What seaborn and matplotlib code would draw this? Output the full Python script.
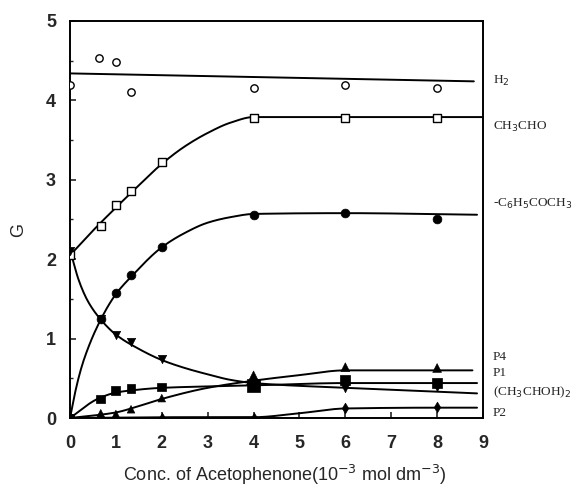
import numpy as np
import pandas as pd
import matplotlib
matplotlib.use("Agg")
import matplotlib.pyplot as plt
import seaborn as sns

# ---- data ----
conc = [0, 0.67, 1.0, 1.33, 2, 4, 6, 8]
h2_x = [0, 0.63, 1.0, 1.33, 4, 6, 8]
h2_g = [4.2, 4.53, 4.48, 4.1, 4.16, 4.2, 4.15]
ch3cho_g = [2.05, 2.42, 2.68, 2.86, 3.22, 3.78, 3.78, 3.78]
acet_g = [0, 1.25, 1.58, 1.8, 2.15, 2.56, 2.58, 2.5]
pinacol_g = [2.1, 1.25, 1.04, 0.96, 0.74, 0.44, 0.38, 0.39]
p1_g = [0, 0.24, 0.35, 0.37, 0.39, 0.41, 0.48, 0.44]
p4_g = [0, 0.06, 0.05, 0.11, 0.25, 0.5, 0.64, 0.63]
p2_x = [0, 2, 4, 6, 8]
p2_g = [0, 0.0, 0.0, 0.13, 0.14]

# hand-drawn fitted curves (knots)
h2_fx = [0, 8.8]
h2_fy = [4.34, 4.24]
ch3cho_fx = [0, 0.5, 1, 1.5, 2, 2.5, 3, 3.5, 4, 9]
ch3cho_fy = [2.05, 2.36, 2.65, 2.93, 3.2, 3.42, 3.59, 3.72, 3.79, 3.79]
acet_fx = [0, 0.15, 0.3, 0.67, 1, 1.35, 2, 2.5, 3, 3.5, 4, 6, 8.87]
acet_fy = [0, 0.42, 0.73, 1.24, 1.56, 1.79, 2.15, 2.33, 2.46, 2.53, 2.57, 2.58, 2.56]
pin_fx = [0, 0.2, 0.4, 0.67, 1, 1.5, 2, 2.5, 3, 3.5, 4, 6, 8.87]
pin_fy = [2.12, 1.72, 1.46, 1.24, 1.05, 0.87, 0.73, 0.63, 0.55, 0.48, 0.44, 0.38, 0.31]
p1_fx = [0, 0.6, 1, 1.37, 2, 4, 6, 8.87]
p1_fy = [0, 0.24, 0.32, 0.35, 0.38, 0.41, 0.44, 0.44]
p4_fx = [0, 0.5, 1, 1.5, 2, 3, 4, 5, 6, 8.77]
p4_fy = [0, 0.03, 0.07, 0.15, 0.24, 0.38, 0.47, 0.54, 0.6, 0.6]
p2_fx = [0, 2, 4, 5, 6, 8, 8.87]
p2_fy = [0, 0.01, 0.01, 0.06, 0.12, 0.13, 0.13]

right_labels = ["H$_2$", "CH$_3$CHO", "-C$_6$H$_5$COCH$_3$", "P4", "P1",
                "(CH$_3$CHOH)$_2$", "P2"]
right_label_y = [4.24, 3.66, 2.69, 0.77, 0.57, 0.33, 0.06]
xticks = list(range(0, 10))
yticks = list(range(0, 6))


def pchip(xk, yk, n=300):
    xk = np.asarray(xk, float)
    yk = np.asarray(yk, float)
    if len(xk) < 3:
        xs = np.linspace(xk[0], xk[-1], n)
        return xs, np.interp(xs, xk, yk)
    h = np.diff(xk)
    d = np.diff(yk) / h
    m = np.zeros_like(yk)
    for i in range(1, len(xk) - 1):
        if d[i - 1] * d[i] > 0:
            w1 = 2 * h[i] + h[i - 1]
            w2 = h[i] + 2 * h[i - 1]
            m[i] = (w1 + w2) / (w1 / d[i - 1] + w2 / d[i])
    m[0] = d[0]
    m[-1] = d[-1]
    xs = np.linspace(xk[0], xk[-1], n)
    idx = np.clip(np.searchsorted(xk, xs) - 1, 0, len(h) - 1)
    t = (xs - xk[idx]) / h[idx]
    h00 = 2 * t**3 - 3 * t**2 + 1
    h10 = t**3 - 2 * t**2 + t
    h01 = -2 * t**3 + 3 * t**2
    h11 = t**3 - t**2
    ys = (h00 * yk[idx] + h10 * h[idx] * m[idx] + h01 * yk[idx + 1]
          + h11 * h[idx] * m[idx + 1])
    return xs, ys


sns.set_style("ticks")
plt.rcParams["font.family"] = ["Liberation Sans", "DejaVu Sans"]
fig = plt.figure(figsize=(5.84, 4.86), dpi=100)
ax = fig.add_axes([70 / 584, 68 / 486, 413 / 584, 397 / 486])

curves = [(h2_fx, h2_fy), (ch3cho_fx, ch3cho_fy), (acet_fx, acet_fy),
          (pin_fx, pin_fy), (p1_fx, p1_fy), (p4_fx, p4_fy), (p2_fx, p2_fy)]
for fx, fy in curves:
    xs, ys = pchip(fx, fy)
    sns.lineplot(x=xs, y=ys, ax=ax, color="black", lw=1.4, sort=False,
                 estimator=None)

# markers
sns.scatterplot(x=h2_x, y=h2_g, ax=ax, marker="o", s=28, facecolor="white",
                edgecolor="black", linewidth=1.0, zorder=5)
sns.scatterplot(x=conc, y=ch3cho_g, ax=ax, marker="s", s=30,
                facecolor="white", edgecolor="black", linewidth=1.0, zorder=5)
sns.scatterplot(x=conc, y=acet_g, ax=ax, marker="o", s=40, color="black",
                edgecolor="black", zorder=5)
sns.scatterplot(x=conc, y=pinacol_g, ax=ax, marker="v", s=36, color="black",
                edgecolor="black", zorder=5)
sns.scatterplot(x=conc, y=p1_g, ax=ax, marker="s",
                s=[40, 40, 40, 40, 40, 90, 50, 50], color="black",
                edgecolor="black", zorder=5)
sns.scatterplot(x=conc, y=p4_g, ax=ax, marker="^",
                s=[30, 30, 30, 30, 30, 110, 40, 40], color="black",
                edgecolor="black", zorder=5)
sns.scatterplot(x=p2_x, y=p2_g, ax=ax, marker="d", s=30, color="black",
                edgecolor="black", zorder=5)

ax.set_xlim(0, 9)
ax.set_ylim(0, 5)
ax.set_xticks(xticks)
ax.set_yticks(yticks)
ax.set_yticks(np.arange(0.5, 5, 1.0), minor=True)
ax.set_xticklabels([str(v) for v in xticks], fontsize=13, fontweight="bold")
ax.set_yticklabels([str(v) for v in yticks], fontsize=13, fontweight="bold")
ax.tick_params(axis="x", which="major", direction="in", length=4,
               width=1.2, pad=12)
ax.tick_params(axis="y", which="major", direction="in", length=4,
               width=1.2, pad=10)
ax.tick_params(axis="y", which="minor", direction="in", length=2, width=1)
for sp in ax.spines.values():
    sp.set_visible(True)
    sp.set_linewidth(1.4)
    sp.set_color("black")

ax.set_xlabel("Conc. of Acetophenone(10$^{-3}$ mol dm$^{-3}$)", fontsize=13)
ax.xaxis.set_label_coords(0.519, -0.112)
ax.set_ylabel("G", fontsize=13)
ax.yaxis.set_label_coords(-0.104, 0.474)

for lab, yy in zip(right_labels, right_label_y):
    ax.text(9.22, yy, lab, fontsize=9.5, family="Liberation Serif",
            va="center", ha="left", clip_on=False)

fig.savefig("out.png", dpi=100)
